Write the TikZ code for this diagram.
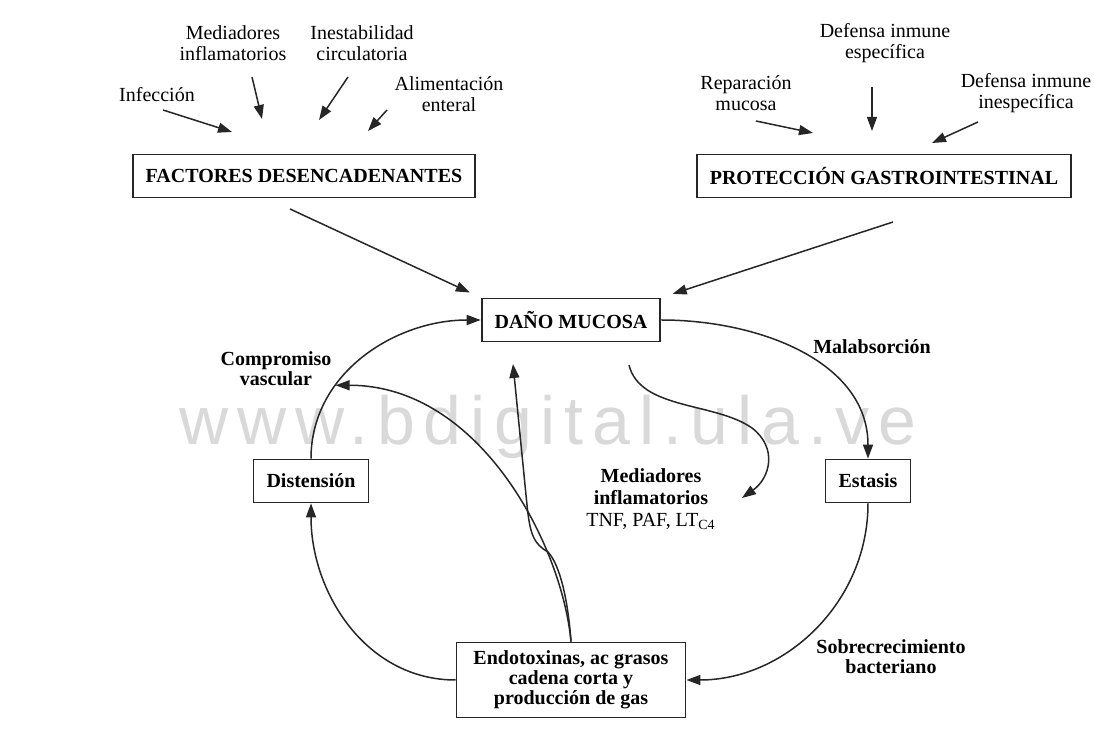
\documentclass[tikz,border=0pt]{standalone}
\usepackage{fontspec}
\setmainfont{Liberation Serif}
\setsansfont{Liberation Sans}
\usepackage{tikz}
\usetikzlibrary{arrows.meta,positioning}
\tikzstyle{box} = [draw=black!85, line width=0.9pt, rectangle, font=\bfseries, inner xsep=6.5pt, minimum height=21.5pt]
\tikzstyle{lbl} = [align=center, inner sep=0pt, font=\fontsize{10}{10.5}\selectfont]
\tikzstyle{blbl} = [align=center, inner sep=0pt, font=\bfseries\fontsize{10}{10}\selectfont]
\tikzstyle{arr} = [line width=0.75pt, draw=black!85, -{Triangle[length=7pt,width=5pt]}]

\begin{document}
\begin{tikzpicture}[x=0.5pt,y=-0.5pt]
		\useasboundingbox (0,0) rectangle (1094,742);
		\node[anchor=base, text=black!15, font=\sffamily\fontsize{34}{34}\selectfont\addfontfeature{LetterSpace=13}] (wm) at (548,445) {www.bdigital.ula.ve};

		\node[lbl] (inf) at (157,95) {Infección};
		\node[lbl] (medtop) at (233,43) {Mediadores\\inflamatorios};
		\node[lbl] (inest) at (362,43) {Inestabilidad\\circulatoria};
		\node[lbl] (alim) at (449,94) {Alimentación\\enteral};
		\node[box] (fact) at (304,176) {FACTORES DESENCADENANTES};

		\node[lbl] (rep) at (746,93) {Reparación\\mucosa};
		\node[lbl] (espec) at (885,43) {Defensa inmune\\específica};
		\node[lbl] (inesp) at (1026,93) {Defensa inmune\\inespecífica};
		\node[box] (prot) at (884,176) {PROTECCIÓN GASTROINTESTINAL};

		\node[box] (dano) at (571,320) {DAÑO MUCOSA};
		\node[box] (dist) at (311,481) {Distensión};
		\node[box] (est) at (868,481) {Estasis};
		\node[box, align=center, inner xsep=8.5pt, minimum height=37.5pt, font=\bfseries\fontsize{10}{10}\selectfont] (endo) at (571,680) {Endotoxinas, ac grasos\\cadena corta y\\producción de gas};

		\node[blbl] (malab) at (872,347) {Malabsorción};
		\node[blbl] (sobre) at (891,657) {Sobrecrecimiento\\bacteriano};
		\node[blbl] (comp) at (276,369) {Compromiso\\vascular};
		\node[lbl, font=\fontsize{10}{11}\selectfont] (medc) at (651,499) {\textbf{Mediadores}\\\textbf{inflamatorios}\\TNF, PAF, LT\textsubscript{C4}};

		\coordinate (i1) at (163,110); \coordinate (i2) at (232,132);
		\coordinate (m1) at (252,77); \coordinate (m2) at (262,119);
		\coordinate (c1) at (348,77); \coordinate (c2) at (319,120);
		\coordinate (e1) at (387,110); \coordinate (e2) at (368,131);
		\coordinate (r1) at (756,121); \coordinate (r2) at (813,133);
		\coordinate (s1) at (872,87); \coordinate (s2) at (872,131);
		\coordinate (n1) at (978,122); \coordinate (n2) at (932,143);
		\coordinate (fd) at (290,209);
		\coordinate (pd) at (893,222);
		\coordinate (up) at (513,364);
		\coordinate (ms) at (629,365);
		\coordinate (me) at (742,498);

		\draw[arr] (i1) -- (i2);
		\draw[arr] (m1) -- (m2);
		\draw[arr] (c1) -- (c2);
		\draw[arr] (e1) -- (e2);
		\draw[arr] (r1) -- (r2);
		\draw[arr] (s1) -- (s2);
		\draw[arr] (n1) -- (n2);
		\draw[arr, shorten >=6pt] (fd) -- (dano.north west);
		\draw[arr, shorten >=6pt] (pd) -- (dano.north east);

		\draw[arr] (dano.east) to[out=0,in=90] (est.north);
		\draw[arr] (est.south) to[out=-90,in=0] (endo.east);
		\draw[arr] (endo.west) to[out=180,in=-90] (dist.south);
		\draw[arr] (dist.north) to[out=90,in=180] coordinate[pos=0.33] (cv) (dano.west);
		\draw[arr] (endo.north) .. controls (562,545) and (480,385) .. (cv);
		\draw[arr] (endo.north) .. controls (568,600) and (560,565) .. (548,552) .. controls (534,544) and (530,535) .. (527,505) -- (up);
		\draw[arr] (ms) .. controls (640,410) and (715,402) .. (752,428) .. controls (778,448) and (770,478) .. (me);
	\end{tikzpicture}
\end{document}
